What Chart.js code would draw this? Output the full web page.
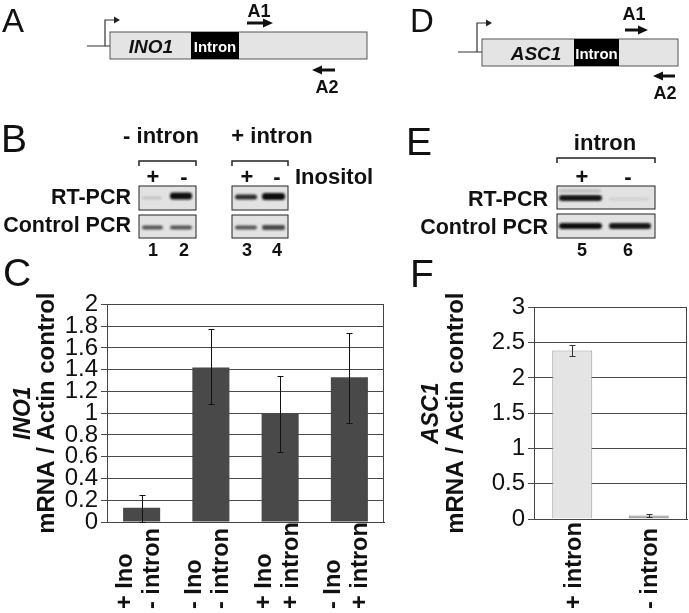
<!DOCTYPE html>
<html><head><meta charset="utf-8">
<script src="https://cdn.jsdelivr.net/npm/chart.js@4/dist/chart.umd.min.js"></script>
<style>
html,body{margin:0;padding:0;background:#fff;}
#wrap{position:relative;width:689px;height:613px;overflow:hidden;background:#fff;}
canvas{position:absolute;}
#top{position:absolute;left:0;top:0;}
</style></head>
<body><div id="wrap">
<canvas id="cC" width="386" height="326" style="left:0;top:287px"></canvas>
<canvas id="cF" width="289" height="323" style="left:400px;top:290px"></canvas>
<svg id="top" width="689" height="613" font-family="'Liberation Sans', Arial, sans-serif" fill="#111">
<defs><filter id="bl" x="-30%" y="-150%" width="160%" height="400%"><feGaussianBlur stdDeviation="1.2 0.9"/></filter></defs>
<!-- panel letters -->
<text x="2" y="32" font-size="33">A</text>
<text x="410" y="32" font-size="33">D</text>
<text x="1" y="152" font-size="39">B</text>
<text x="406" y="155" font-size="39">E</text>
<text x="3" y="286" font-size="39">C</text>
<text x="410" y="287" font-size="39">F</text>
<!-- diagram A -->
<path d="M87,46 H110 M105,46 V20 H114" stroke="#333" stroke-width="1.2" fill="none"/>
<polygon points="114,16.5 120,20 114,23.5" fill="#222"/>
<rect x="110" y="32" width="257" height="27" fill="#e4e4e4" stroke="#555" stroke-width="1"/>
<rect x="191" y="32" width="48" height="27" fill="#000"/>
<text x="151" y="53" font-size="19" font-weight="bold" font-style="italic" text-anchor="middle">INO1</text>
<text x="215" y="51.5" font-size="15" font-weight="bold" text-anchor="middle" fill="#fff">Intron</text>
<text x="259" y="17" font-size="18" font-weight="bold" text-anchor="middle">A1</text>
<path d="M247,23 H265" stroke="#111" stroke-width="3"/>
<polygon points="263,18.5 273,23 263,27.5" fill="#111"/>
<path d="M320,70 H335" stroke="#111" stroke-width="3"/>
<polygon points="312,70 322,65.5 322,74.5" fill="#111"/>
<text x="327" y="93" font-size="18" font-weight="bold" text-anchor="middle">A2</text>
<!-- diagram D -->
<path d="M458,52 H482 M477,52 V23 H486" stroke="#333" stroke-width="1.2" fill="none"/>
<polygon points="486,19.5 492,23 486,26.5" fill="#222"/>
<rect x="482" y="39" width="196" height="27" fill="#e4e4e4" stroke="#555" stroke-width="1"/>
<rect x="574" y="39" width="45" height="27" fill="#000"/>
<text x="536" y="59.5" font-size="19" font-weight="bold" font-style="italic" text-anchor="middle">ASC1</text>
<text x="596.5" y="58.5" font-size="15" font-weight="bold" text-anchor="middle" fill="#fff">Intron</text>
<text x="634" y="20" font-size="18" font-weight="bold" text-anchor="middle">A1</text>
<path d="M625,30 H640" stroke="#111" stroke-width="3"/>
<polygon points="638,25.5 648,30 638,34.5" fill="#111"/>
<path d="M661,76 H675" stroke="#111" stroke-width="3"/>
<polygon points="653,76 663,71.5 663,80.5" fill="#111"/>
<text x="665" y="99" font-size="18" font-weight="bold" text-anchor="middle">A2</text>
<!-- panel B -->
<g font-weight="bold">
<text x="161" y="143" font-size="22" text-anchor="middle">- intron</text>
<text x="272" y="143" font-size="22" text-anchor="middle">+ intron</text>
<text x="153" y="184" font-size="22" text-anchor="middle">+</text>
<text x="184" y="184" font-size="22" text-anchor="middle">-</text>
<text x="247" y="184" font-size="22" text-anchor="middle">+</text>
<text x="277" y="184" font-size="22" text-anchor="middle">-</text>
<text x="295" y="184" font-size="22">Inositol</text>
<text x="131" y="204" font-size="21.5" text-anchor="end">RT-PCR</text>
<text x="131" y="232" font-size="21.5" text-anchor="end">Control PCR</text>
<text x="153" y="256" font-size="18" text-anchor="middle">1</text>
<text x="184" y="256" font-size="18" text-anchor="middle">2</text>
<text x="247" y="256" font-size="18" text-anchor="middle">3</text>
<text x="277" y="256" font-size="18" text-anchor="middle">4</text>
</g>
<path d="M139,166 V161 H196 V166 M232,166 V161 H288 V166" stroke="#222" stroke-width="1.5" fill="none"/>
<rect x="139" y="186" width="57" height="24" fill="#e2e2e2" stroke="#222"/>
<rect x="232" y="186" width="56" height="24" fill="#e2e2e2" stroke="#222"/>
<rect x="139" y="215" width="57" height="23" fill="#e2e2e2" stroke="#222"/>
<rect x="232" y="215" width="56" height="23" fill="#e2e2e2" stroke="#222"/>
<g filter="url(#bl)">
<rect x="142" y="196.5" width="20" height="3" rx="1.5" fill="#c4c4c4"/>
<rect x="170" y="192.5" width="22" height="7" rx="3" fill="#111"/>
<rect x="235" y="194.5" width="22" height="5" rx="2.5" fill="#2a2a2a"/>
<rect x="262" y="193" width="23" height="7" rx="3" fill="#111"/>
<rect x="142" y="225.5" width="21" height="4" rx="2" fill="#555"/>
<rect x="170" y="225.5" width="22" height="4" rx="2" fill="#555"/>
<rect x="235" y="225.5" width="22" height="4" rx="2" fill="#555"/>
<rect x="262" y="225" width="23" height="5" rx="2" fill="#4a4a4a"/>
</g>
<!-- panel E -->
<g font-weight="bold">
<text x="605" y="150" font-size="22" text-anchor="middle">intron</text>
<text x="582" y="184" font-size="22" text-anchor="middle">+</text>
<text x="628" y="184" font-size="22" text-anchor="middle">-</text>
<text x="548" y="206" font-size="21.5" text-anchor="end">RT-PCR</text>
<text x="548" y="234" font-size="21.5" text-anchor="end">Control PCR</text>
<text x="582" y="256" font-size="18" text-anchor="middle">5</text>
<text x="628" y="256" font-size="18" text-anchor="middle">6</text>
</g>
<path d="M557,163 V158 H655 V163" stroke="#222" stroke-width="1.5" fill="none"/>
<rect x="557" y="186" width="98" height="23" fill="#e2e2e2" stroke="#222"/>
<rect x="557" y="214" width="98" height="24" fill="#e2e2e2" stroke="#222"/>
<g filter="url(#bl)">
<rect x="559" y="189" width="42" height="4" rx="2" fill="#c2c2c2"/>
<rect x="559" y="195" width="43" height="6" rx="3" fill="#141414"/>
<rect x="609" y="197.5" width="40" height="3" rx="1.5" fill="#d0d0d0"/>
<rect x="559" y="223" width="43" height="6" rx="3" fill="#111"/>
<rect x="609" y="223" width="42" height="6" rx="3" fill="#151515"/>
</g>
</svg>
</div>
<script>
// ---- data ----
const cLabels = [['+ Ino', '- intron'], ['- Ino', '- intron'], ['+ Ino', '+ intron'], ['- Ino', '+ intron']];
const cValues = [0.13, 1.42, 1.00, 1.33];
const cErrLow = [0.00, 1.08, 0.645, 0.91];
const cErrHigh = [0.25, 1.77, 1.34, 1.74];
const cTitle = ['INO1', 'mRNA / Actin control'];

const fLabels = [['+ intron'], ['- intron']];
const fValues = [2.39, 0.05];
const fErrLow = [2.31, 0.03];
const fErrHigh = [2.47, 0.07];
const fTitle = ['ASC1', 'mRNA / Actin control'];

const FAM = "'Liberation Sans', Arial, sans-serif";

function framePlugin(color) {
  return { id: 'frame', beforeDatasetsDraw(ch) {
    const a = ch.chartArea, c = ch.ctx;
    c.save(); c.strokeStyle = color; c.lineWidth = 1;
    c.strokeRect(Math.round(a.left) + 0.5, Math.round(a.top) + 0.5, Math.round(a.right - a.left) - 1, Math.round(a.bottom - a.top));
    c.restore();
  }};
}
function errPlugin(lo, hi, cap, color) {
  return { id: 'err', afterDatasetsDraw(ch) {
    const c = ch.ctx, xs = ch.scales.x, ys = ch.scales.y;
    c.save(); c.strokeStyle = color; c.lineWidth = 1;
    lo.forEach((l, i) => {
      const x = Math.round(xs.getPixelForValue(i)) + 0.5;
      const y1 = Math.round(ys.getPixelForValue(hi[i])) + 0.5, y2 = Math.round(ys.getPixelForValue(l)) + 0.5;
      c.beginPath();
      c.moveTo(x, y1); c.lineTo(x, y2);
      c.moveTo(x - cap, y1); c.lineTo(x + cap, y1);
      c.moveTo(x - cap, y2); c.lineTo(x + cap, y2);
      c.stroke();
    });
    c.restore();
  }};
}
function xLabPlugin(labels, offsets, yBottom, size) {
  return { id: 'xlab', afterDraw(ch) {
    const c = ch.ctx, xs = ch.scales.x;
    c.save(); c.fillStyle = '#111'; c.font = 'bold ' + size + 'px ' + FAM;
    c.textAlign = 'left'; c.textBaseline = 'middle';
    labels.forEach((lines, i) => {
      const x = xs.getPixelForValue(i);
      lines.forEach((t, j) => {
        c.save(); c.translate(x + offsets[j], yBottom); c.rotate(-Math.PI / 2);
        c.fillText(t, 0, 0); c.restore();
      });
    });
    c.restore();
  }};
}
function yTitlePlugin(lines, xs, size1, size2) {
  return { id: 'ytitle', afterDraw(ch) {
    const c = ch.ctx, a = ch.chartArea;
    const cy = (a.top + a.bottom) / 2;
    c.save(); c.fillStyle = '#111'; c.textAlign = 'center'; c.textBaseline = 'middle';
    [['bold italic ' + size1 + 'px ' + FAM, lines[0], xs[0]], ['bold ' + size2 + 'px ' + FAM, lines[1], xs[1]]].forEach(([f, t, x]) => {
      c.save(); c.font = f; c.translate(x, cy); c.rotate(-Math.PI / 2); c.fillText(t, 0, 0); c.restore();
    });
    c.restore();
  }};
}

function makeChart(id, labels, values, colors, borders, yMax, step, yWidth, xHeight, padTop, barPct, plugins) {
  return new Chart(document.getElementById(id), {
    type: 'bar',
    data: { labels: labels.map(l => l.join(' ')), datasets: [{ data: values, backgroundColor: colors, borderColor: borders, borderWidth: borders ? 1 : 0, categoryPercentage: 1, barPercentage: barPct }] },
    options: {
      responsive: false, animation: false, devicePixelRatio: 1,
      layout: { padding: { top: padTop, right: 2, left: 0, bottom: 0 } },
      plugins: { legend: { display: false }, tooltip: { enabled: false } },
      scales: {
        x: { grid: { display: false }, border: { display: true, color: '#333', width: 1 }, ticks: { display: false }, afterFit(s) { s.height = xHeight; } },
        y: { min: 0, max: yMax,
             ticks: { stepSize: step, autoSkip: false, font: { family: FAM, size: 24 }, color: '#111', padding: 3,
                      callback: v => String(Math.round(v * 100) / 100) },
             grid: { color: '#4a4a4a', tickLength: 6, lineWidth: 1 }, border: { color: '#333' }, afterFit(s) { s.width = yWidth; } }
      }
    },
    plugins: plugins
  });
}

makeChart('cC', cLabels, cValues, '#494949', null, 2, 0.2, 107, 91, 14, 0.535, [
  framePlugin('#444'), errPlugin(cErrLow, cErrHigh, 3, '#111'),
  xLabPlugin(cLabels, [-16, 11], 609 - 287, 23.5),
  yTitlePlugin(cTitle, [24, 47], 23, 24)
]);
makeChart('cF', fLabels, fValues, ['#e4e4e4', '#a8a8a8'], ['#9a9a9a', '#8a8a8a'], 3, 0.5, 134, 94, 14, 0.523, [
  framePlugin('#444'), errPlugin(fErrLow, fErrHigh, 3, '#333'),
  xLabPlugin(fLabels, [2], 609 - 290, 23.5),
  yTitlePlugin(fTitle, [32, 56], 23, 24)
]);
</script>
</body></html>
